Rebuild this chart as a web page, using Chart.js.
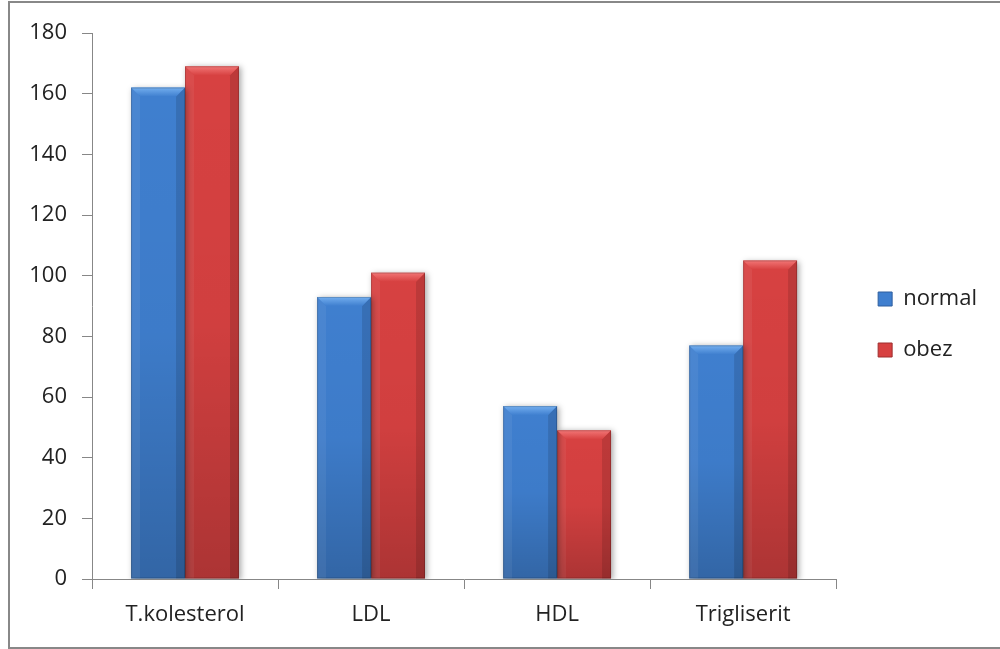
<!DOCTYPE html>
<html>
<head>
<meta charset="utf-8">
<script src="https://cdn.jsdelivr.net/npm/chart.js@4.4.1/dist/chart.umd.min.js"></script>
<style>
  html, body { margin: 0; padding: 0; background: #ffffff; }
  #wrap { width: 1000px; height: 649px; }
</style>
</head>
<body>
<div id="wrap"><canvas id="chart" width="1000" height="649"></canvas></div>
<script>
// Lipid profile: normal vs obese group
const categories = ['T.kolesterol', 'LDL', 'HDL', 'Trigliserit'];
const normalValues = [162, 93, 57, 77];
const obezValues = [169, 101, 49, 105];
const seriesNames = ['normal', 'obez'];
const yMin = 0;
const yMax = 180;
const yStep = 20;

const FONT = '"Open Sans", "Liberation Sans", sans-serif';
const FONT_SIZE = 22;
const AXIS_GRAY = '#878787';
const TEXT = '#222222';

const palette = [
  { body: '#3f7fcf', light: '#74afef', edge: '#2f5f9e' },
  { body: '#d74141', light: '#f27676', edge: '#9e2f2f' }
];

// Frame around the whole chart
const framePlugin = {
  id: 'frame',
  beforeDraw(chart) {
    const c = chart.ctx;
    c.save();
    c.fillStyle = '#ffffff';
    c.fillRect(0, 0, chart.width, chart.height);
    c.strokeStyle = '#888888';
    c.lineWidth = 2;
    c.strokeRect(9, 2, chart.width + 20, chart.height - 3);
    c.restore();
  }
};

// Soft drop shadow behind the bars, then bevel shading on top of them
const bevelPlugin = {
  id: 'bevel',
  beforeDatasetsDraw(chart) {
    const c = chart.ctx;
    c.save();
    c.shadowColor = 'rgba(0,0,0,0.35)';
    c.shadowBlur = 6;
    c.shadowOffsetX = 2;
    c.shadowOffsetY = 1;
  },
  afterDatasetsDraw(chart) {
    const c = chart.ctx;
    c.restore();
    chart.data.datasets.forEach((ds, di) => {
      const meta = chart.getDatasetMeta(di);
      const col = palette[di];
      meta.data.forEach(el => {
        const { x, y, base, width } = el.getProps(['x', 'y', 'base', 'width'], true);
        const l = x - width / 2, r = x + width / 2, t = y, b = base;
        const bv = Math.min(9, width / 6, (b - t) / 3);
        c.save();
        // darker toward the bottom
        const g = c.createLinearGradient(0, t, 0, b);
        g.addColorStop(0, 'rgba(0,0,0,0)');
        g.addColorStop(0.5, 'rgba(0,0,0,0.03)');
        g.addColorStop(1, 'rgba(0,0,0,0.2)');
        c.fillStyle = g;
        c.fillRect(l, t, width, b - t);
        // left edge highlight
        c.beginPath();
        c.moveTo(l, t); c.lineTo(l + bv, t + bv); c.lineTo(l + bv, b); c.lineTo(l, b); c.closePath();
        c.fillStyle = 'rgba(255,255,255,0.06)';
        c.fill();
        // right edge shade
        c.beginPath();
        c.moveTo(r, t); c.lineTo(r - bv, t + bv); c.lineTo(r - bv, b); c.lineTo(r, b); c.closePath();
        c.fillStyle = 'rgba(0,0,0,0.12)';
        c.fill();
        // top bevel
        const tg = c.createLinearGradient(0, t, 0, t + bv);
        tg.addColorStop(0, col.light);
        tg.addColorStop(1, col.body);
        c.beginPath();
        c.moveTo(l, t); c.lineTo(r, t); c.lineTo(r - bv, t + bv); c.lineTo(l + bv, t + bv); c.closePath();
        c.fillStyle = tg;
        c.fill();
        // thin outline
        c.strokeStyle = 'rgba(0,0,0,0.18)';
        c.lineWidth = 1;
        c.strokeRect(l + 0.5, t + 0.5, width - 1, b - t - 1);
        c.restore();
      });
    });
  }
};

// Invisible axis used only to reserve space on one side of the plot
function spacer(position, size) {
  return {
    position,
    display: true,
    grid: { display: false, drawTicks: false },
    border: { display: false },
    ticks: { display: false },
    afterFit(s) {
      if (position === 'top' || position === 'bottom') s.height = size; else s.width = size;
    }
  };
}

new Chart(document.getElementById('chart'), {
  type: 'bar',
  data: {
    labels: categories,
    datasets: [
      { label: seriesNames[0], data: normalValues, backgroundColor: palette[0].body, borderWidth: 0 },
      { label: seriesNames[1], data: obezValues, backgroundColor: palette[1].body, borderWidth: 0 }
    ]
  },
  options: {
    responsive: false,
    animation: false,
    devicePixelRatio: 1,
    categoryPercentage: 0.58,
    barPercentage: 1.0,
    layout: { padding: { top: 0, bottom: 0, left: 0, right: 13 } },
    plugins: {
      tooltip: { enabled: false },
      legend: {
        position: 'right',
        align: 'center',
        labels: {
          font: { family: FONT, size: FONT_SIZE },
          color: TEXT,
          boxWidth: 14,
          boxHeight: 14,
          padding: 29,
          generateLabels(chart) {
            return chart.data.datasets.map((ds, i) => ({
              text: ds.label,
              fillStyle: palette[i].body,
              strokeStyle: palette[i].edge,
              lineWidth: 1,
              hidden: false,
              datasetIndex: i,
              fontColor: TEXT
            }));
          }
        }
      }
    },
    scales: {
      x: {
        grid: { display: true, drawOnChartArea: false, drawTicks: true, tickLength: 10, color: AXIS_GRAY, offset: true },
        border: { display: true, color: AXIS_GRAY, width: 1 },
        ticks: { font: { family: FONT, size: FONT_SIZE }, color: TEXT, padding: 13, maxRotation: 0 },
        afterFit(s) { s.height = 70; }
      },
      y: {
        min: yMin,
        max: yMax,
        ticks: { stepSize: yStep, font: { family: FONT, size: FONT_SIZE }, color: TEXT, padding: 15 },
        grid: { display: true, drawOnChartArea: false, drawTicks: true, tickLength: 10, color: AXIS_GRAY },
        border: { display: true, color: AXIS_GRAY, width: 1 },
        afterFit(s) { s.width = 92; }
      },
      spaceTop: spacer('top', 33),
      spaceRight: spacer('right', 13)
    }
  },
  plugins: [framePlugin, bevelPlugin]
});
</script>
</body>
</html>
